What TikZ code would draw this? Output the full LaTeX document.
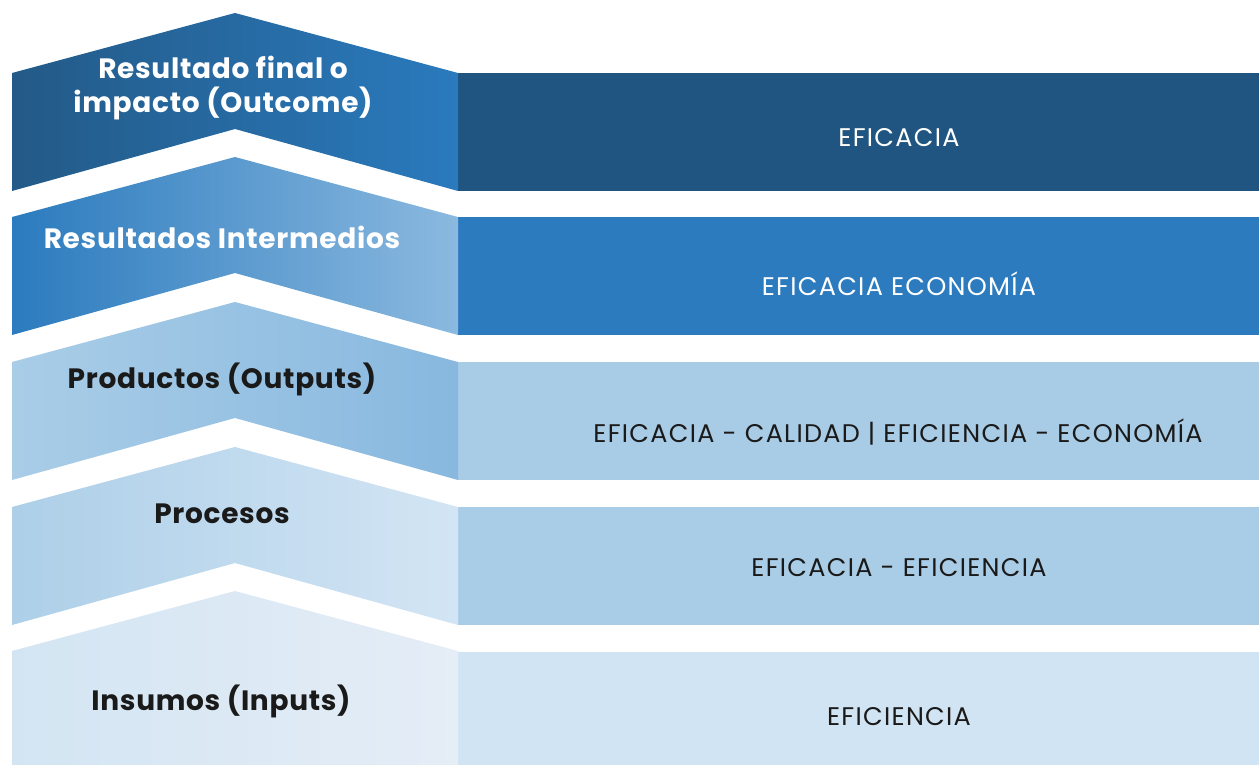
\documentclass[tikz,border=0pt]{standalone}
\usepackage{fontspec}
\setmainfont{Poppins}
\newfontfamily\labfont[LetterSpace=2.5]{Poppins}
\newfontfamily\barfont[LetterSpace=5]{Poppins}
\definecolor{barA}{HTML}{1F5580}
\definecolor{barB}{HTML}{2B7BBE}
\definecolor{barC}{HTML}{A9CCE6}
\definecolor{barD}{HTML}{AACDE7}
\definecolor{barE}{HTML}{D1E4F3}
\definecolor{cAl}{HTML}{235A87}\definecolor{cAr}{HTML}{2A7ABD}
\definecolor{cBl}{HTML}{2B7BBE}\definecolor{cBr}{HTML}{8BB9DF}
\definecolor{cCl}{HTML}{A9CDE7}\definecolor{cCr}{HTML}{88B8DF}
\definecolor{cDl}{HTML}{ADCFE8}\definecolor{cDr}{HTML}{D3E5F4}
\definecolor{cEl}{HTML}{D3E5F3}\definecolor{cEr}{HTML}{E5EDF6}
\definecolor{txt}{HTML}{1A1A1A}
\tikzset{
  lab/.style={font=\labfont\fontsize{28}{34}\selectfont\bfseries, align=center, inner sep=0pt},
  rlab/.style={font=\barfont\fontsize{25.5}{30}\selectfont, inner sep=0pt},
}
\newcommand{\chev}[3]{%
  \shade[left color=#2, right color=#3]
    (12,#1+60) -- (235,#1) -- (458,#1+60) -- (458,#1+178) -- (235,#1+116) -- (12,#1+178) -- cycle;}
\begin{document}
\begin{tikzpicture}[x=1pt,y=-1pt]
\useasboundingbox (0,0) rectangle (1259,765);
\fill[white] (0,0) rectangle (1259,765);
% bars
\fill[barA] (458,73) rectangle (1259,191);
\fill[barB] (458,217) rectangle (1259,335);
\fill[barC] (458,362) rectangle (1259,480);
\fill[barD] (458,507) rectangle (1259,625);
\fill[barE] (458,652) rectangle (1259,765);
% chevrons
\chev{13}{cAl}{cAr}
\chev{157}{cBl}{cBr}
\chev{302}{cCl}{cCr}
\chev{447}{cDl}{cDr}
\shade[left color=cEl, right color=cEr]
  (12,651) -- (235,591) -- (458,651) -- (458,765) -- (12,765) -- cycle;
% left labels
\node[lab, text=white] (l1) at (223,88) {Resultado final o\\impacto (Outcome)};
\node[lab, text=white] (l2) at (222,237) {Resultados Intermedios};
\node[lab, text=txt] (l3) at (222,379) {Productos (Outputs)};
\node[lab, text=txt] (l4) at (222,514) {Procesos};
\node[lab, text=txt] (l5) at (221,701) {Insumos (Inputs)};
% right labels
\node[rlab, text=white] (r1) at (899,138) {EFICACIA};
\node[rlab, text=white] (r2) at (899,284) {EFICACIA ECONOMÍA};
\node[rlab, text=txt] (r3) at (898,432) {EFICACIA - CALIDAD | EFICIENCIA - ECONOMÍA};
\node[rlab, text=txt] (r4) at (899,568) {EFICACIA - EFICIENCIA};
\node[rlab, text=txt] (r5) at (899,717) {EFICIENCIA};
\end{tikzpicture}
\end{document}
